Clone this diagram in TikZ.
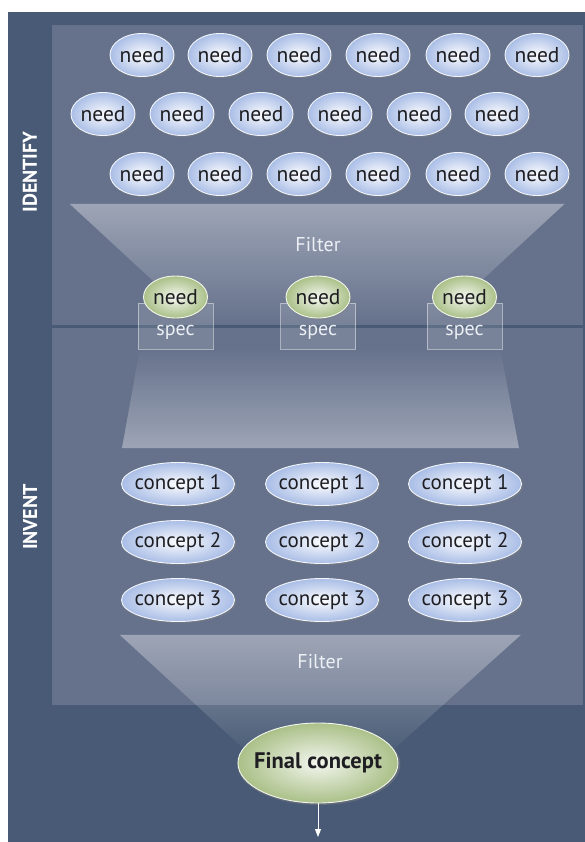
\documentclass[tikz,border=0pt]{standalone}
\usepackage{fontspec}
\setmainfont{PT Sans}
\usetikzlibrary{shapes.geometric,shadows,fadings,arrows.meta}
\definecolor{bgdark}{HTML}{485A75}
\definecolor{panelc}{HTML}{66728C}
\definecolor{needblue}{HTML}{A9BDE6}
\definecolor{needgreen}{HTML}{AAC088}
\definecolor{txtdark}{HTML}{1E1E22}
\definecolor{filtertxt}{HTML}{ECEFF4}
\newcommand{\zw}[1]{\makebox[0pt]{#1}}
\tikzset{
  glossy/.style={ellipse, inner sep=0pt, draw=white!85!needblue, line width=0.9pt,
    drop shadow={opacity=0.45, shadow xshift=0.8pt, shadow yshift=-1.2pt, shadow scale=1.02},
    text=txtdark},
  neednode/.style={glossy, minimum width=64pt, minimum height=43pt,
    inner color=white!96!needblue, outer color=needblue, font=\fontsize{21.5}{22}\selectfont},
  conceptnode/.style={glossy, minimum width=113pt, minimum height=43pt,
    inner color=white!96!needblue, outer color=needblue, font=\fontsize{21}{22}\selectfont},
  greennode/.style={glossy, draw=white!85!needgreen, minimum width=64pt, minimum height=42pt,
    inner color=white!88!needgreen, outer color=needgreen, font=\fontsize{21.5}{22}\selectfont},
  finalnode/.style={glossy, draw=white!85!needgreen, minimum width=160pt, minimum height=80pt,
    inner color=white!86!needgreen, outer color=needgreen, font=\fontsize{22.5}{23}\selectfont\bfseries},
  specbox/.style={rectangle, minimum width=75pt, minimum height=46pt, fill=white, fill opacity=0.12,
    draw=white, draw opacity=0.45, line width=0.8pt},
  spectext/.style={text=filtertxt, font=\fontsize{20}{21}\selectfont},
  filtertext/.style={text=filtertxt, font=\fontsize{20}{21}\selectfont},
  sidetext/.style={text=white, rotate=90, font=\fontsize{20}{21}\selectfont\bfseries},
  funnel/.style={fill=white, fill opacity=0.36},
}
\begin{document}
\begin{tikzpicture}[x=1pt,y=-1pt]
\useasboundingbox (0,0) rectangle (585,842);
\fill[white] (0,0) rectangle (585,842);
\fill[bgdark] (8,12) rectangle (585,842);
\fill[panelc] (52,25) rectangle (583,325);
\fill[panelc] (52,328) rectangle (583,705);

% funnels (y axis is flipped, so the fading names are swapped)
\fill[funnel, path fading=south] (70,204) -- (565,204) -- (435,324) -- (200,324) -- cycle;
\fill[funnel, path fading=north] (140,348) -- (500,348) -- (519,448) -- (122,448) -- cycle;
\fill[funnel, path fading=south] (120,635) -- (521,635) -- (382,760) -- (256,760) -- cycle;

% side labels
\node[sidetext] (lid) at (30,172) {IDENTIFY};
\node[sidetext] (linv) at (30,517) {INVENT};

% needs
\foreach \x [count=\i] in {142,220,299,378,458,537} {
  \node[neednode] (na\i) at (\x,55) {\zw{need}};
  \node[neednode] (nc\i) at (\x,174) {\zw{need}};
}
\foreach \x [count=\i] in {103,182,261,340,419,497} {
  \node[neednode] (nb\i) at (\x,114) {\zw{need}};
}

\node[filtertext] (f1) at (318,245) {Filter};

% selected needs with specs
\foreach \x [count=\i] in {175.5,318,464.5} {
  \node[specbox] (s\i) at (\x,326) {};
  \node[spectext] (st\i) at ([yshift=-6pt]s\i.center) {spec};
  \node[greennode] (g\i) at (\x,297) {\zw{need}};
}

% concepts
\foreach \x [count=\i] in {178,322,465} {
  \node[conceptnode] (ca\i) at (\x,484) {\zw{concept 1}};
  \node[conceptnode] (cb\i) at (\x,542) {\zw{concept 2}};
  \node[conceptnode] (cc\i) at (\x,600) {\zw{concept 3}};
}

\node[filtertext] (f2) at (320,662) {Filter};

\node[finalnode] (fc) at (318,763) {\zw{Final concept}};
\coordinate (out) at (318,837);
\draw[white, line width=0.9pt, -{Triangle[width=6pt,length=8pt]}] (fc.south) -- (out);
\end{tikzpicture}
\end{document}
